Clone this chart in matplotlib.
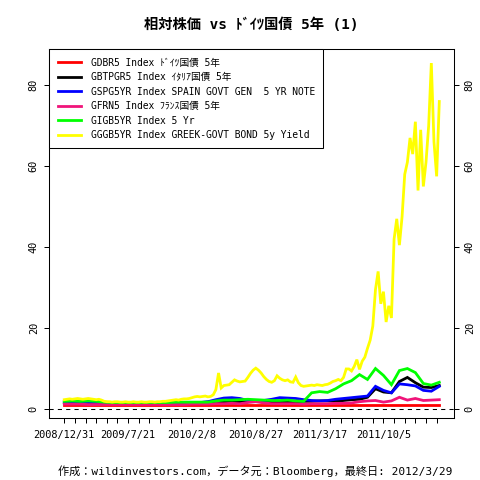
import numpy as np
import matplotlib
matplotlib.use("Agg")
import matplotlib.pyplot as plt

plt.rcParams['font.family'] = ['DejaVu Sans Mono', 'Noto Sans CJK JP']

# ---- data -------------------------------------------------------------
# x axis: business-day observation index, 2008/12/31 .. 2012/3/29 (847 obs)
n_obs = 847
tick_every = 24
label_every = 144
tick_labels = ["2008/12/31", "2009/7/21", "2010/2/8", "2010/8/27",
               "2011/3/17", "2011/10/5"]

# Greece sampled every 6 observations, other series every 18 observations
greece_step = 6
other_step = 18

gdbr5 = [1.0, 1.0, 1.0, 1.0, 1.0, 1.0, 1.0, 1.0, 1.0, 1.0, 1.0, 1.0,
         1.0, 1.0, 1.0, 1.0, 1.0, 1.0, 1.0, 1.0, 1.0, 1.0, 1.0, 1.0,
         1.0, 1.0, 1.0, 1.0, 1.0, 1.0, 1.0, 1.0, 1.0, 1.0, 1.0, 1.0,
         1.0, 1.0, 1.0, 1.0, 1.0, 1.0, 1.0, 1.0, 1.0, 1.0, 1.0, 1.0]

gbtpgr5 = [1.6, 1.5, 1.5, 1.4, 1.4, 1.3, 1.3, 1.3, 1.3, 1.3, 1.3, 1.3,
           1.3, 1.4, 1.4, 1.4, 1.5, 1.6, 1.7, 1.9, 1.8, 1.9, 1.8, 1.9,
           2.0, 1.9, 1.8, 1.7, 1.7, 1.8, 1.9, 1.9, 2.0, 2.0, 1.9, 2.1,
           2.3, 2.4, 2.9, 5.0, 4.2, 4.0, 6.8, 7.8, 6.5, 5.4, 5.3, 5.8]

gspg5yr = [1.7, 1.8, 1.8, 1.7, 1.6, 1.5, 1.4, 1.4, 1.4, 1.4, 1.4, 1.4,
           1.4, 1.4, 1.5, 1.5, 1.6, 1.6, 1.8, 2.3, 2.7, 2.8, 2.6, 2.1,
           2.0, 2.1, 2.4, 2.8, 2.7, 2.6, 2.3, 2.1, 2.0, 2.1, 2.4, 2.6,
           2.8, 3.0, 3.2, 5.6, 4.6, 4.0, 6.2, 6.0, 5.7, 4.6, 4.4, 5.6]

gfrn5 = [1.2, 1.2, 1.2, 1.1, 1.1, 1.1, 1.1, 1.1, 1.1, 1.1, 1.1, 1.1,
         1.1, 1.1, 1.1, 1.1, 1.2, 1.2, 1.2, 1.3, 1.3, 1.4, 1.3, 1.6,
         1.8, 1.5, 1.3, 1.3, 1.3, 1.3, 1.2, 1.3, 1.3, 1.3, 1.4, 1.4,
         1.5, 1.8, 2.0, 2.1, 1.7, 2.0, 2.9, 2.2, 2.6, 2.1, 2.2, 2.3]

gigb5yr = [1.9, 2.0, 1.9, 2.0, 1.9, 1.7, 1.6, 1.6, 1.6, 1.6, 1.6, 1.6,
           1.6, 1.6, 1.7, 1.7, 1.7, 1.7, 1.7, 2.0, 2.2, 2.2, 2.3, 2.4,
           2.3, 2.2, 2.1, 2.1, 2.2, 2.0, 1.9, 4.0, 4.3, 4.1, 5.0, 6.2,
           7.0, 8.5, 7.3, 10.0, 8.3, 6.0, 9.5, 10.0, 9.0, 6.3, 5.9, 6.6]

gggb5yr = [2.3, 2.4, 2.5, 2.4, 2.5, 2.6, 2.5, 2.4, 2.5, 2.6, 2.5, 2.4, 2.3, 2.4, 2.2,
           1.9, 1.8, 1.8, 1.7, 1.8, 1.8, 1.7, 1.7, 1.8, 1.7, 1.7, 1.8, 1.7, 1.7, 1.8,
           1.7, 1.7, 1.8, 1.8, 1.7, 1.8, 1.8, 1.9, 1.9,
           2.0, 2.1, 2.2, 2.3, 2.2, 2.4, 2.5, 2.5, 2.6,
           2.8, 3.0, 3.1, 3.0, 3.1, 3.2, 3.0, 3.1,
           3.5, 4.8, 8.9,
           5.2, 5.8, 5.9, 6.0,
           6.6, 7.2,
           6.9, 6.7, 6.8, 6.9,
           7.8, 8.8, 9.6, 10.1,
           9.6, 8.9, 8.0, 7.3, 6.8,
           6.6, 7.0, 8.2,
           7.6, 7.2, 7.0, 7.2,
           6.7, 6.6, 7.9, 6.5,
           5.8, 5.6, 5.7, 5.8,
           5.9, 5.8, 6.0, 5.9, 5.8, 6.0, 6.1,
           6.4, 6.8, 7.0, 7.3, 7.0,
           7.8, 9.9,
           9.9, 9.4, 10.5, 12.2, 9.8, 11.8, 12.8, 15.0, 17.0, 20.5, 29.5,
           34.0, 26.0, 29.0, 21.5, 25.5, 22.5, 42.0, 47.0, 40.5, 47.5,
           58.0, 61.0, 67.0, 63.0, 71.0, 54.0, 69.0, 55.0, 61.0, 70.0,
           85.5, 66.0, 57.5, 76.0]

series_labels = ["GDBR5 Index ﾄﾞｲﾂ国債 5年",
                 "GBTPGR5 Index ｲﾀﾘｱ国債 5年",
                 "GSPG5YR Index SPAIN GOVT GEN  5 YR NOTE",
                 "GFRN5 Index ﾌﾗﾝｽ国債 5年",
                 "GIGB5YR Index 5 Yr",
                 "GGGB5YR Index GREEK-GOVT BOND 5y Yield"]
series_colors = ["#FF0000", "#000000", "#0000FF", "#F0147A", "#00FF00", "#FFFF00"]

title = "相対株価 vs ﾄﾞｲﾂ国債 5年 (1)"
caption = "作成：wildinvestors.com，データ元：Bloomberg，最終日: 2012/3/29"

# ---- plot -------------------------------------------------------------
fig = plt.figure(figsize=(4.8, 4.8), dpi=100)
ax = fig.add_axes([49.3 / 480, 1 - 418.3 / 480, 405 / 480, 369 / 480])

all_series = [gdbr5, gbtpgr5, gspg5yr, gfrn5, gigb5yr, gggb5yr]
steps = [other_step] * 5 + [greece_step]
for vals, step, col, lab in zip(all_series, steps, series_colors, series_labels):
    x = np.arange(len(vals)) * step
    ax.plot(x, vals, color=col, lw=2.0, label=lab, solid_joinstyle='miter')

ax.axhline(0, color='black', lw=0.75, linestyle=(0, (4, 4)))

ax.set_xlim(-0.04 * (n_obs - 1), (n_obs - 1) * 1.04)
ax.set_ylim(-2.3, 88.9)

xt = np.arange(0, n_obs, tick_every)
ax.set_xticks(xt)
xl = []
for t in xt:
    if t % label_every == 0 and t // label_every < len(tick_labels):
        xl.append(tick_labels[t // label_every])
    else:
        xl.append("")
ax.set_xticklabels(xl, fontsize=7.4)

yt = [0, 20, 40, 60, 80]
ax.set_yticks(yt)
ax.set_yticklabels([str(v) for v in yt], fontsize=7.4, rotation=90, va='center')
ax.tick_params(axis='y', right=True, labelright=True, length=3.6, width=0.72, pad=4)
ax.tick_params(axis='x', length=3.6, width=0.72, pad=5)
for t in ax.yaxis.get_major_ticks():
    t.label1.set_rotation(90)
    t.label1.set_va('center')
    t.label2.set_rotation(90)
    t.label2.set_va('center')

for s in ax.spines.values():
    s.set_linewidth(0.75)
    s.set_color('black')

leg = ax.legend(loc='upper left', bbox_to_anchor=(0, 1), borderaxespad=0,
                fontsize=6.95, frameon=True, fancybox=False, edgecolor='black',
                handlelength=2.4, handletextpad=1.05, borderpad=0.85,
                labelspacing=0.47)
leg.get_frame().set_linewidth(0.75)
leg.get_frame().set_alpha(1)
for h in leg.get_lines():
    h.set_linewidth(2.0)

fig.text(251 / 480, 1 - 25 / 480, title, ha='center', va='center',
         fontsize=10.3, fontweight='bold')
fig.text(255 / 480, 1 - 471 / 480, caption, ha='center', va='center',
         fontsize=8.0)

fig.savefig("out.png", dpi=100)
